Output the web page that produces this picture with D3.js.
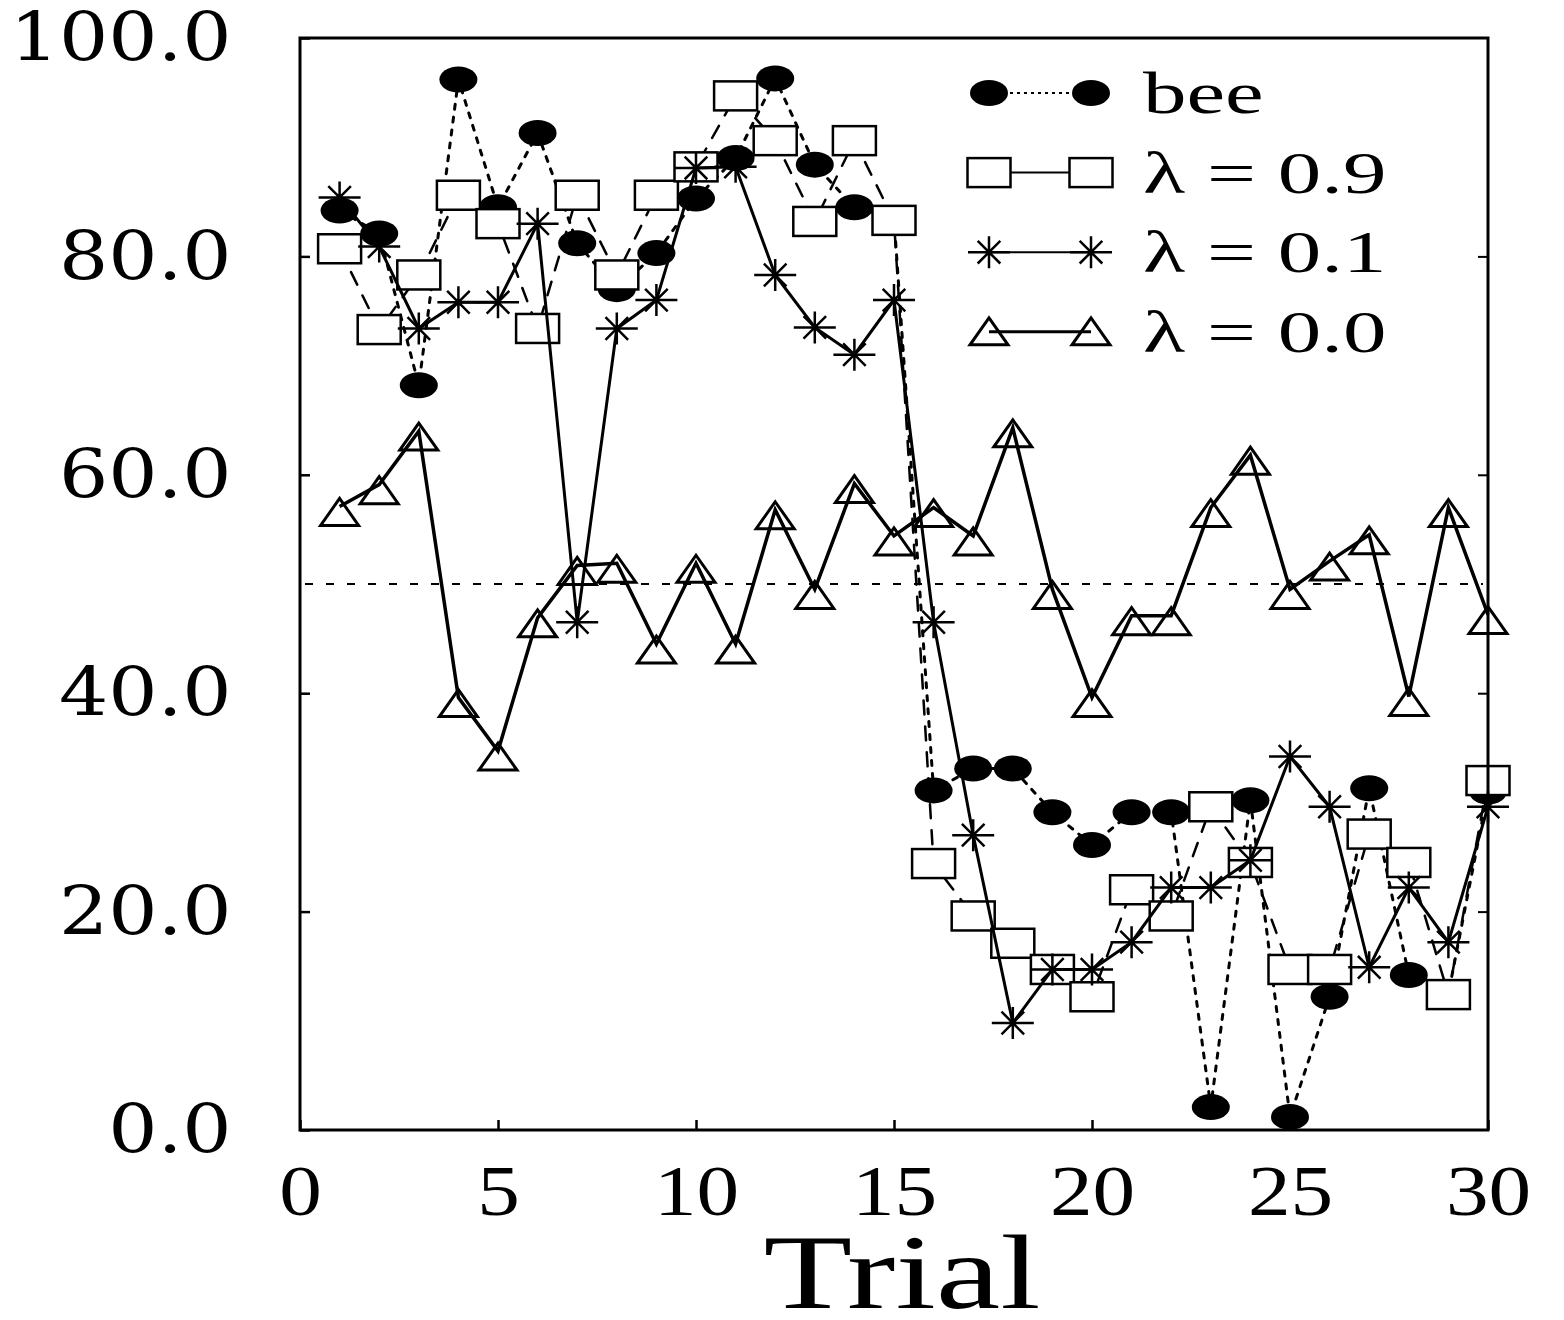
<!DOCTYPE html>
<html>
<head>
<meta charset="utf-8">
<script src="https://cdn.jsdelivr.net/npm/d3@7"></script>
<style>
  body { margin: 0; background: #fff; }
</style>
</head>
<body>
<svg id="chart" width="1564" height="1320"></svg>
<script>
// values (percent per trial)
const trials = [1, 2, 3, 4, 5, 6, 7, 8, 9, 10, 11, 12, 13, 14, 15,
                16, 17, 18, 19, 20, 21, 22, 23, 24, 25, 26, 27, 28, 29, 30];
const bee   = [84.2, 82.1, 68.2, 96.2, 84.5, 91.3, 81.2, 77.0, 80.3, 85.3, 89.0, 96.3, 88.4, 84.5, 83.5,
               31.1, 33.1, 33.1, 29.1, 26.1, 29.1, 29.1, 2.1, 30.2, 1.2, 12.2, 31.3, 14.2, 12.5, 31.0];
const lam09 = [80.7, 73.3, 78.3, 85.6, 83.0, 73.4, 85.6, 78.3, 85.6, 88.2, 94.7, 90.6, 83.2, 90.6, 83.3,
               24.4, 19.6, 17.1, 14.7, 12.2, 22.0, 19.6, 29.6, 24.5, 14.7, 14.7, 27.1, 24.5, 12.4, 32.0];
const lam01 = [85.4, 80.9, 73.4, 75.8, 75.8, 83.0, 46.5, 73.4, 76.0, 88.1, 88.2, 78.3, 73.5, 71.0, 76.0,
               46.5, 27.0, 9.8, 14.7, 14.7, 17.2, 22.2, 22.2, 24.7, 34.2, 29.6, 14.9, 22.2, 17.2, 29.6];
const lam00 = [57.1, 59.1, 64.0, 39.6, 34.7, 46.9, 51.7, 51.9, 44.5, 51.9, 44.5, 56.8, 49.5, 59.2, 54.4,
               57.0, 54.4, 64.3, 49.5, 39.6, 47.1, 47.1, 57.0, 61.8, 49.5, 52.1, 54.5, 39.7, 57.0, 47.2];
const xTicks = [0, 5, 10, 15, 20, 25, 30];
const yTicks = [0, 20, 40, 60, 80, 100];
const chanceLevel = 50;
const legendLabels = ["bee", "λ = 0.9", "λ = 0.1", "λ = 0.0"];

const svg = d3.select("#chart");

const x = d3.scaleLinear().domain([0, 30]).range([300, 1488]);
const y = d3.scaleLinear().domain([0, 100]).range([1130, 38]);

// marker drawers
function beeMark(sel) {
  sel.append("ellipse").attr("rx", 19).attr("ry", 13).attr("fill", "#000");
}
function squareMark(sel) {
  sel.append("rect")
    .attr("x", -21.5).attr("y", -14.5)
    .attr("width", 43).attr("height", 29)
    .attr("fill", "#fff").attr("stroke", "#000").attr("stroke-width", 2.5);
}
function starMark(sel) {
  const r = 16, d = 11.3;
  sel.append("path")
    .attr("d", `M0,${-r}L0,${r}M${-d},${-d}L${d},${d}M${-d},${d}L${d},${-d}M-21,0L21,0`)
    .attr("fill", "none").attr("stroke", "#000").attr("stroke-width", 2.5);
}
function triMark(sel) {
  sel.append("path")
    .attr("d", "M0,-8L19,19L-19,19Z")
    .attr("fill", "none").attr("stroke", "#000").attr("stroke-width", 3)
    .attr("stroke-linejoin", "miter");
}

const series = [
  { name: "bee",  values: bee,   mark: beeMark,    width: 3,   dash: "5,8" },
  { name: "l09",  values: lam09, mark: squareMark, width: 2.5, dash: "14,12" },
  { name: "l01",  values: lam01, mark: starMark,   width: 3,   dash: null },
  { name: "l00",  values: lam00, mark: triMark,    width: 3.5, dash: null }
];

const plot = svg.append("g");

// chance line
plot.append("line")
  .attr("x1", x(0) + 5).attr("x2", x(30) - 5)
  .attr("y1", y(chanceLevel)).attr("y2", y(chanceLevel))
  .attr("stroke", "#000").attr("stroke-width", 2)
  .attr("stroke-dasharray", "8,13");

const line = d3.line()
  .x((d, i) => x(trials[i]))
  .y(d => y(d));

series.forEach(s => {
  plot.append("path")
    .datum(s.values)
    .attr("d", line)
    .attr("fill", "none")
    .attr("stroke", "#000")
    .attr("stroke-width", s.width)
    .attr("stroke-dasharray", s.dash)
    .attr("stroke-linecap", s.dash ? "round" : "butt");

  plot.selectAll(".m-" + s.name)
    .data(s.values)
    .enter()
    .append("g")
    .attr("class", "m-" + s.name)
    .attr("transform", (d, i) => `translate(${x(trials[i])},${y(d)})`)
    .each(function () { s.mark(d3.select(this)); });
});

// frame
svg.append("rect")
  .attr("x", x(0)).attr("y", y(100))
  .attr("width", x(30) - x(0)).attr("height", y(0) - y(100))
  .attr("fill", "none").attr("stroke", "#000").attr("stroke-width", 3);

// x axis
const xAxis = svg.append("g")
  .attr("transform", `translate(0,${y(0)})`)
  .call(d3.axisBottom(x).tickValues(xTicks).tickFormat(d3.format("d"))
    .tickSizeInner(-10).tickSizeOuter(0).tickPadding(35));
xAxis.select(".domain").remove();
xAxis.selectAll("line").attr("stroke", "#000").attr("stroke-width", 2.5);
xAxis.selectAll("text")
  .attr("font-family", "'Liberation Serif', serif")
  .attr("font-size", 71)
  .attr("fill", "#000")
  .attr("transform", "scale(1.2,1)");

// y axis
const yAxis = svg.append("g")
  .attr("transform", `translate(${x(0)},0)`)
  .call(d3.axisLeft(y).tickValues(yTicks).tickFormat(d3.format(".1f"))
    .tickSizeInner(-10).tickSizeOuter(0).tickPadding(60));
yAxis.select(".domain").remove();
yAxis.selectAll("line").attr("stroke", "#000").attr("stroke-width", 2.5);
yAxis.selectAll("text")
  .attr("font-family", "'DejaVu Serif', serif")
  .attr("font-size", 68)
  .attr("fill", "#000")
  .attr("transform", "scale(1.14,1)");

// mirrored ticks on the right edge
const yRight = svg.append("g")
  .attr("transform", `translate(${x(30)},0)`)
  .call(d3.axisRight(y).tickValues(yTicks.slice(1, -1)).tickFormat("")
    .tickSizeInner(-10).tickSizeOuter(0));
yRight.select(".domain").remove();
yRight.selectAll("line").attr("stroke", "#000").attr("stroke-width", 2);

// x title
svg.append("text")
  .attr("transform", `translate(902,1308) scale(1.37,1)`)
  .attr("text-anchor", "middle")
  .attr("font-family", "'Liberation Serif', serif")
  .attr("font-size", 106)
  .attr("fill", "#000")
  .text("Trial");

// legend
const legend = svg.append("g");
const legendStyles = [
  { mark: beeMark,    width: 2,   dash: "3,4" },
  { mark: squareMark, width: 2,   dash: null },
  { mark: starMark,   width: 2,   dash: null },
  { mark: triMark,    width: 3,   dash: null }
];
legendLabels.forEach((label, i) => {
  const base = 113 + i * 79.6;
  const cy = base - 20;
  const row = legend.append("g");
  row.append("line")
    .attr("x1", 989).attr("x2", 1091)
    .attr("y1", cy).attr("y2", cy)
    .attr("stroke", "#000")
    .attr("stroke-width", legendStyles[i].width)
    .attr("stroke-dasharray", legendStyles[i].dash);
  [989, 1091].forEach(px => {
    const g = row.append("g").attr("transform", `translate(${px},${i === 3 ? cy - 6 : cy})`);
    legendStyles[i].mark(g);
  });
  row.append("text")
    .attr("transform", `translate(1143,${base}) scale(1.45,1)`)
    .attr("font-family", "'Liberation Serif', serif")
    .attr("font-size", 60)
    .attr("fill", "#000")
    .text(label);
});
</script>
</body>
</html>
